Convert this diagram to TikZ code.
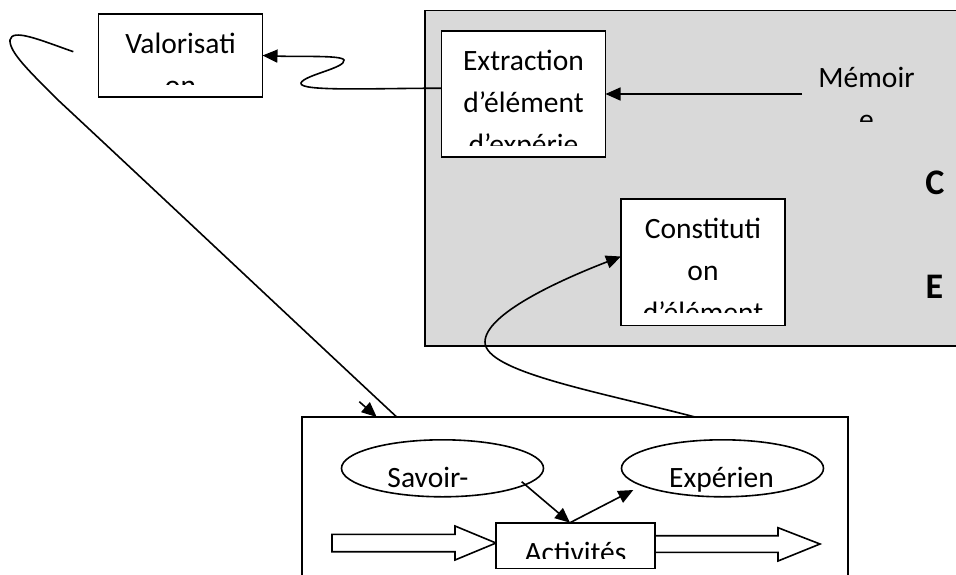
\documentclass[tikz,border=0pt]{standalone}
\usepackage{fontspec}
\setmainfont{Carlito}
\usetikzlibrary{arrows.meta,shapes.geometric,calc}
\definecolor{panelgrey}{HTML}{D9D9D9}
\tikzset{
  frame/.style={draw=black, line width=1.6pt, fill=white, inner sep=0pt, outer sep=0pt},
  bubble/.style={frame, ellipse},
  label/.style={font=\fontsize{29.5}{42}\selectfont, inner sep=0pt, anchor=base},
  letter/.style={font=\fontsize{36}{42}\selectfont\bfseries, inner sep=0pt, anchor=base},
  link/.style={line width=1.6pt, draw=black},
  tip/.style={-{Triangle[length=15pt,width=13pt]}},
  blockarrow/.style={draw=black, line width=1.6pt, fill=white, line join=miter},
}
\begin{document}
\begin{tikzpicture}[x=1pt, y=-1pt]
\useasboundingbox (0,0) rectangle (956,574);

% grey panel on the right
\node[frame, fill=panelgrey, minimum width=555pt, minimum height=335.7pt] (panel) at (702.5,178.2) {};

% boxes
\node[frame, minimum width=164pt, minimum height=83pt] (valo) at (180.5,55.5) {};
\node[frame, minimum width=164pt, minimum height=126.4pt] (extr) at (523.5,94) {};
\node[frame, minimum width=164pt, minimum height=126.4pt] (const) at (703,262.2) {};
\node[frame, minimum width=546pt, minimum height=183pt] (bbox) at (575,508.5) {};
\node[bubble, minimum width=202pt, minimum height=57pt] (sav) at (442.5,468.3) {};
\node[bubble, minimum width=202pt, minimum height=57pt] (exp) at (722.5,468.3) {};

% block arrows through the activity box
\path[blockarrow] (332,534.3) -- (455,534.3) -- (455,526) -- (496,543) -- (455,560)
  -- (455,551.7) -- (332,551.7) -- cycle;
\path[blockarrow] (655,535.7) -- (778,535.7) -- (778,527.7) -- (820,544) -- (778,561)
  -- (778,552.3) -- (655,552.3) -- cycle;
\node[frame, minimum width=159pt, minimum height=45.6pt] (act) at (575.5,545.5) {};

% box texts, cut off at the bottom of each box
\begin{scope}
  \clip (99,14) rectangle (262,84);
  \node[label] (valoA) at (180.5,53) {Valorisati};
  \node[label] (valoB) at (180.5,95) {on};
\end{scope}
\begin{scope}
  \clip (441.5,30.8) rectangle (605.6,145.3);
  \node[label] (extrA) at (523.5,70) {Extraction};
  \node[label] (extrB) at (523.5,112) {d’élément};
  \node[label] (extrC) at (523.5,154) {d’expérie};
\end{scope}
\begin{scope}
  \clip (800,40) rectangle (930,121);
  \node[label] (memoA) at (866.5,87) {Mémoir};
  \node[label] (memoB) at (866.5,129) {e};
\end{scope}
\begin{scope}
  \clip (621,199) rectangle (785,312.7);
  \node[label] (constA) at (703,238) {Constituti};
  \node[label] (constB) at (703,280) {on};
  \node[label] (constC) at (703,322) {d’élément};
\end{scope}
\begin{scope}
  \clip (496,522.7) rectangle (655,558.3);
  \node[label] (actA) at (575.5,562) {Activités};
\end{scope}
\node[label] (savA) at (428,487.3) {Savoir-};
\node[label] (expA) at (721.5,487.3) {Expérien};

\node[letter] (letC) at (935,194) {C};
\node[letter] (letE) at (934.5,298) {E};

% connectors
\coordinate (memoTail) at (802,94);
\draw[link, tip] (memoTail) -- (extr.east);

\draw[link, tip] (extr.176) .. controls (380,88) and (298,92) .. (301,83)
  .. controls (304,75) and (346,68) .. (344,60)
  .. controls (342,55) and (300,57) .. (valo.east);

\coordinate (loopStart) at (73.3,51.7);
\coordinate (loopEnd) at ($(bbox.north west)+(94.7,0)$);
\draw[link] (loopStart) .. controls (40,40) and (12,28) .. (10,40)
  .. controls (9,52) and (30,72) .. (58,100)
  .. controls (160,195) and (330,355) .. (loopEnd);

\coordinate (smallTail) at (359.3,401.7);
\draw[link, tip] (smallTail) -- ($(bbox.north west)+(74.7,0)$);

\coordinate (riseStart) at ($(bbox.north west)+(393,0)$);
\draw[link, tip] (riseStart) .. controls (600,392) and (485,372) .. (485,342)
  .. controls (485,314) and (560,280) .. (const.176);

\coordinate (savTail) at (521.7,481.7);
\coordinate (actTop) at ($(act.north)+(-5.5,0)$);
\coordinate (expHead) at (633.3,490);
\draw[link, tip] (savTail) -- (actTop);
\draw[link, tip] (actTop) -- (expHead);
\end{tikzpicture}
\end{document}
